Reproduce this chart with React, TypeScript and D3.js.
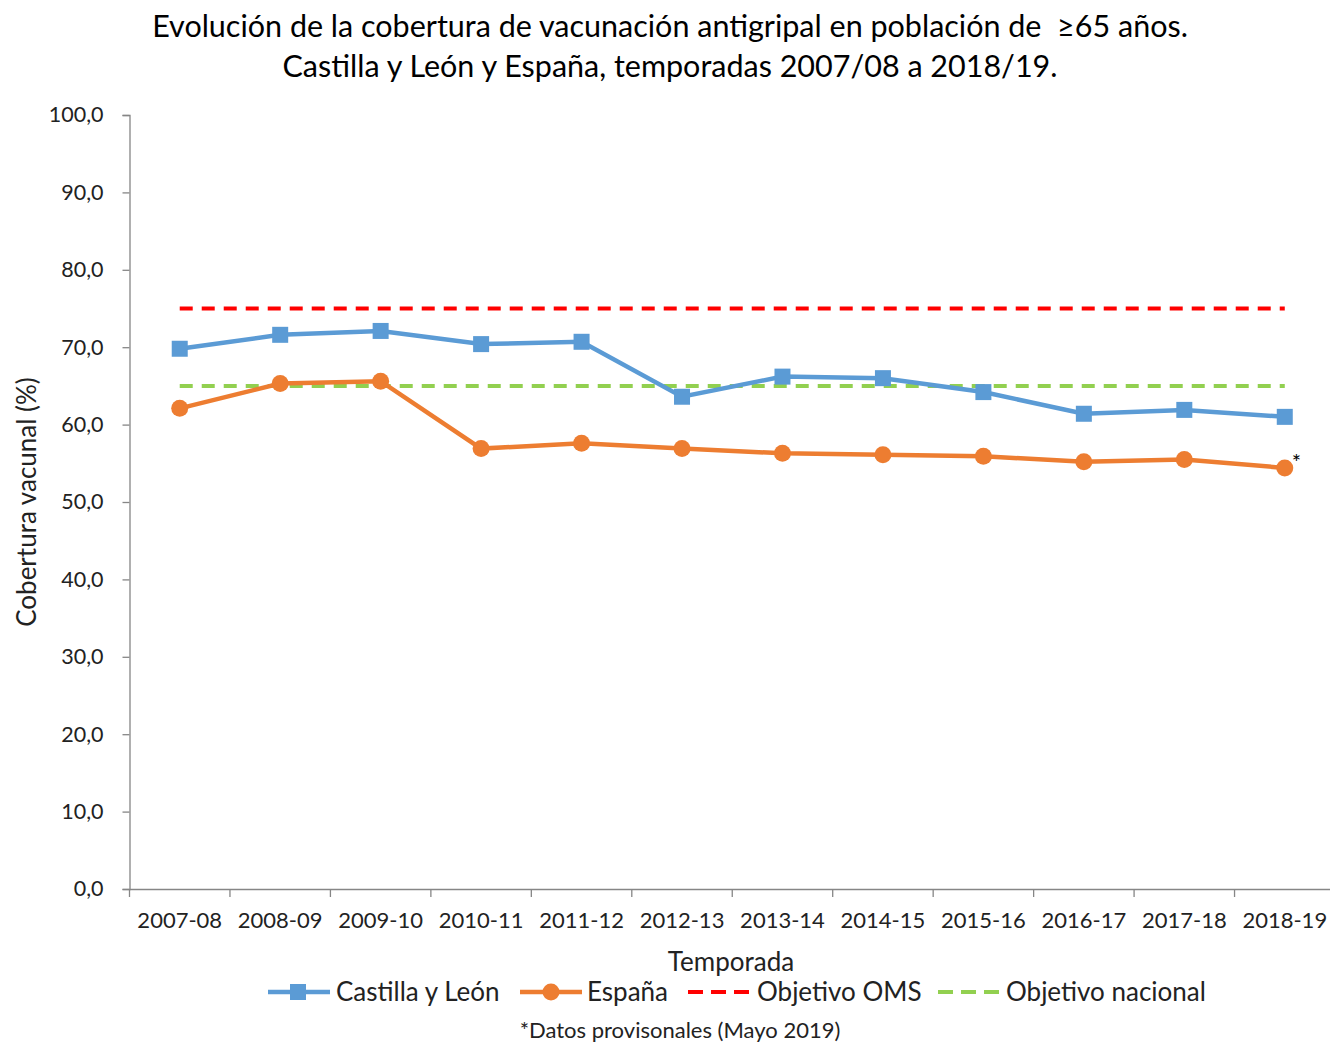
import React, { useEffect, useRef } from "react";
import * as d3 from "d3";

const temporadas = [
  "2007-08", "2008-09", "2009-10", "2010-11", "2011-12", "2012-13",
  "2013-14", "2014-15", "2015-16", "2016-17", "2017-18", "2018-19",
];
const castillaLeon = [69.8, 71.6, 72.1, 70.4, 70.7, 63.6, 66.2, 66.0, 64.2, 61.4, 61.9, 61.0];
const espana = [62.1, 65.3, 65.6, 56.9, 57.6, 56.9, 56.3, 56.1, 55.9, 55.2, 55.5, 54.4];
const objetivoOMS = 75;
const objetivoNacional = 65;
const yTicks = [0, 10, 20, 30, 40, 50, 60, 70, 80, 90, 100];

const W = 1330;
const H = 1045;
const FONT = "Lato, 'Open Sans', sans-serif";

export default function App() {
  const ref = useRef<SVGSVGElement>(null);

  useEffect(() => {
    const svg = d3.select(ref.current);
    svg.selectAll("*").remove();

    const x = d3.scaleBand().domain(temporadas).range([129.5, 1335]);
    const y = d3.scaleLinear().domain([0, 100]).range([889, 115]);
    const cx = (d: string) => (x(d) as number) + x.bandwidth() / 2;

    // titulo
    const title = svg.append("g").attr("font-family", FONT).attr("fill", "#000")
      .attr("text-anchor", "middle").attr("font-size", 30.5);
    title.append("text").attr("x", 670).attr("y", 37)
      .text("Evolución de la cobertura de vacunación antigripal en población de \u00a0≥65 años.");
    title.append("text").attr("x", 670).attr("y", 77)
      .text("Castilla y León y España, temporadas 2007/08 a 2018/19.");

    // eje y
    const yAxis = svg.append("g").attr("transform", "translate(129.5,0)")
      .call(d3.axisLeft(y).tickValues(yTicks).tickSize(7).tickPadding(19)
        .tickFormat((d) => d3.format(".1f")(d as number).replace(".", ",")));
    yAxis.selectAll("path, line").attr("stroke", "#868686").attr("stroke-width", 1.3);
    yAxis.selectAll("text").attr("font-family", FONT).attr("font-size", 21.5).attr("fill", "#222");

    // eje x
    const xAxis = svg.append("g").attr("transform", "translate(0,889)")
      .call(d3.axisBottom(x).tickSize(0).tickPadding(23));
    xAxis.select(".domain").attr("stroke", "#868686").attr("stroke-width", 1.3);
    xAxis.selectAll("text").attr("font-family", FONT).attr("font-size", 22).attr("fill", "#222");
    svg.append("g").selectAll("line")
      .data(temporadas)
      .enter()
      .append("line")
      .attr("x1", (d) => x(d) as number)
      .attr("x2", (d) => x(d) as number)
      .attr("y1", 889)
      .attr("y2", 897)
      .attr("stroke", "#868686")
      .attr("stroke-width", 1.3);

    // titulos de ejes
    svg.append("text")
      .attr("transform", "translate(36,502) rotate(-90)")
      .attr("text-anchor", "middle")
      .attr("font-family", FONT).attr("font-size", 26).attr("fill", "#222")
      .text("Cobertura vacunal (%)");
    svg.append("text").attr("x", 731).attr("y", 971)
      .attr("text-anchor", "middle")
      .attr("font-family", FONT).attr("font-size", 26).attr("fill", "#222")
      .text("Temporada");

    // objetivos
    const x0 = cx(temporadas[0]);
    const x1 = cx(temporadas[temporadas.length - 1]);
    svg.append("line").attr("x1", x0).attr("x2", x1)
      .attr("y1", y(objetivoOMS)).attr("y2", y(objetivoOMS))
      .attr("stroke", "#FF0000").attr("stroke-width", 4).attr("stroke-dasharray", "13,9");
    svg.append("line").attr("x1", x0).attr("x2", x1)
      .attr("y1", y(objetivoNacional)).attr("y2", y(objetivoNacional))
      .attr("stroke", "#92D050").attr("stroke-width", 4).attr("stroke-dasharray", "13,9");

    const line = d3.line<number>()
      .x((_, i) => cx(temporadas[i]))
      .y((d) => y(d));

    // Castilla y León
    svg.append("path").datum(castillaLeon)
      .attr("d", line).attr("fill", "none")
      .attr("stroke", "#5B9BD5").attr("stroke-width", 4.5);
    svg.append("g").selectAll("rect")
      .data(castillaLeon)
      .enter()
      .append("rect")
      .attr("x", (_, i) => cx(temporadas[i]) - 8)
      .attr("y", (d) => y(d) - 8)
      .attr("width", 16).attr("height", 16)
      .attr("fill", "#5B9BD5");

    // España
    svg.append("path").datum(espana)
      .attr("d", line).attr("fill", "none")
      .attr("stroke", "#ED7D31").attr("stroke-width", 4.5);
    svg.append("g").selectAll("circle")
      .data(espana)
      .enter()
      .append("circle")
      .attr("cx", (_, i) => cx(temporadas[i]))
      .attr("cy", (d) => y(d))
      .attr("r", 8.5)
      .attr("fill", "#ED7D31");

    // asterisco dato provisional
    svg.append("text")
      .attr("x", x1 + 7).attr("y", y(espana[espana.length - 1]) + 2)
      .attr("font-family", FONT).attr("font-size", 22).attr("fill", "#000")
      .text("*");

    // leyenda
    const lg = svg.append("g").attr("font-family", FONT).attr("font-size", 26).attr("fill", "#222");
    const ly = 992;
    lg.append("line").attr("x1", 268).attr("x2", 330).attr("y1", ly).attr("y2", ly)
      .attr("stroke", "#5B9BD5").attr("stroke-width", 4.5);
    lg.append("rect").attr("x", 290).attr("y", ly - 8).attr("width", 16).attr("height", 16)
      .attr("fill", "#5B9BD5");
    lg.append("text").attr("x", 336).attr("y", ly + 9).text("Castilla y León");

    lg.append("line").attr("x1", 520).attr("x2", 582).attr("y1", ly).attr("y2", ly)
      .attr("stroke", "#ED7D31").attr("stroke-width", 4.5);
    lg.append("circle").attr("cx", 551).attr("cy", ly).attr("r", 8.5).attr("fill", "#ED7D31");
    lg.append("text").attr("x", 587).attr("y", ly + 9).text("España");

    lg.append("line").attr("x1", 688).attr("x2", 750).attr("y1", ly).attr("y2", ly)
      .attr("stroke", "#FF0000").attr("stroke-width", 4).attr("stroke-dasharray", "15,8");
    lg.append("text").attr("x", 757).attr("y", ly + 9).text("Objetivo OMS");

    lg.append("line").attr("x1", 938).attr("x2", 1000).attr("y1", ly).attr("y2", ly)
      .attr("stroke", "#92D050").attr("stroke-width", 4).attr("stroke-dasharray", "15,8");
    lg.append("text").attr("x", 1006).attr("y", ly + 9).text("Objetivo nacional");

    svg.append("text").attr("x", 680).attr("y", 1038)
      .attr("text-anchor", "middle")
      .attr("font-family", FONT).attr("font-size", 22).attr("fill", "#222")
      .text("*Datos provisonales (Mayo 2019)");
  }, []);

  return (
    <svg
      ref={ref}
      width={W}
      height={H}
      style={{ position: "absolute", left: 0, top: 0, background: "#fff" }}
    />
  );
}
